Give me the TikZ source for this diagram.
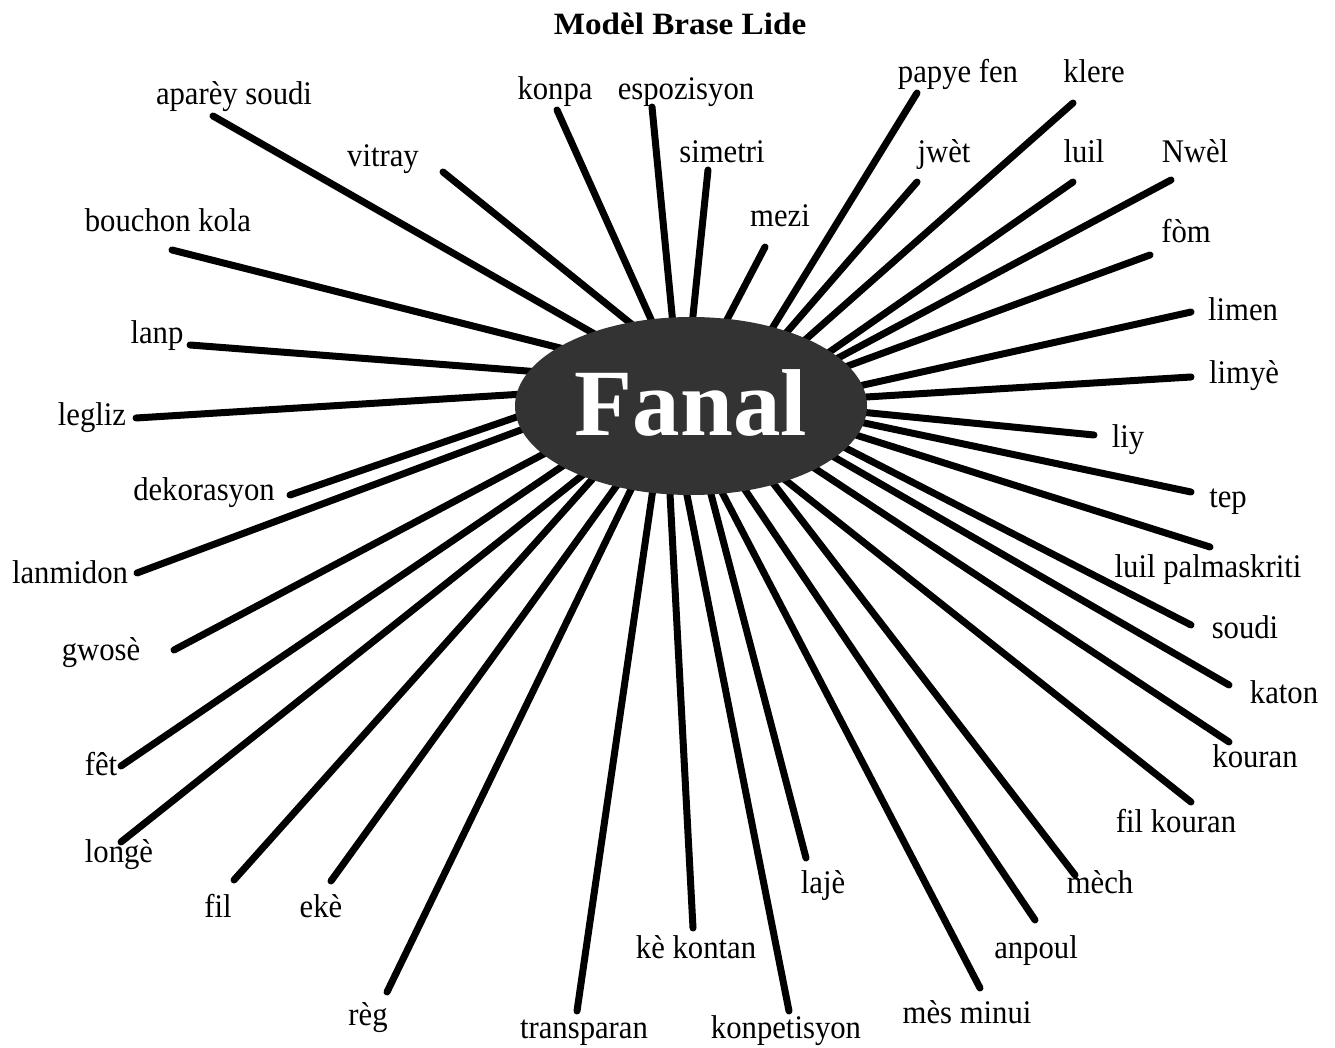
\documentclass[tikz,border=0pt]{standalone}
\usepackage{fontspec}
\usepackage{graphicx}
\setmainfont{Liberation Serif}
\newfontfamily\labfont[FakeStretch=0.93]{Liberation Serif}
\usetikzlibrary{shapes.geometric}
\tikzset{
  ray/.style={line width=7pt, line cap=round, black},
  lab/.style={anchor=base, inner sep=0pt, font=\labfont\fontsize{33}{38}\selectfont},
  hub/.style={ellipse, fill=black!80, draw=none, minimum width=352pt, minimum height=178pt, inner sep=0pt},
}
\begin{document}
\begin{tikzpicture}[x=1pt,y=-1pt]
\useasboundingbox[fill=white] (0,0) rectangle (1335,1048);

% title
\node[anchor=base, inner sep=0pt] (title) at (680,35) {\scalebox{1.07}[1]{\fontsize{31}{36}\selectfont\bfseries Modèl Brase Lide}};

% outer / inner ends of the rays
\coordinate (o01) at (213,116);  \coordinate (i01) at (605,340);  % aparey soudi
\coordinate (o02) at (443,172);  \coordinate (i02) at (645,335);  % vitray
\coordinate (o03) at (557,110);  \coordinate (i03) at (658,335);  % konpa
\coordinate (o04) at (652,107);  \coordinate (i04) at (674,335);  % espozisyon
\coordinate (o05) at (708,170);  \coordinate (i05) at (691,335);  % simetri
\coordinate (o06) at (765,247);  \coordinate (i06) at (719,335);  % mezi
\coordinate (o07) at (917,93);   \coordinate (i07) at (765,340);  % papye fen
\coordinate (o08) at (917,182);  \coordinate (i08) at (780,340);  % jwet
\coordinate (o09) at (1073,103); \coordinate (i09) at (805,340);  % klere
\coordinate (o10) at (1073,182); \coordinate (i10) at (818,360);  % luil
\coordinate (o11) at (1171,180); \coordinate (i11) at (825,365);  % Nwel
\coordinate (o12) at (1150,255); \coordinate (i12) at (845,367);  % fom
\coordinate (o13) at (1191,312); \coordinate (i13) at (850,388);  % limen
\coordinate (o14) at (1191,377); \coordinate (i14) at (850,398);  % limye
\coordinate (o15) at (1094,435); \coordinate (i15) at (850,411);  % liy
\coordinate (o16) at (1191,492); \coordinate (i16) at (850,420);  % tep
\coordinate (o17) at (1210,547); \coordinate (i17) at (840,430);  % luil palmaskriti
\coordinate (o18) at (1191,625); \coordinate (i18) at (830,440);  % soudi
\coordinate (o19) at (1229,685); \coordinate (i19) at (815,446);  % katon
\coordinate (o20) at (1229,742); \coordinate (i20) at (790,452);  % kouran
\coordinate (o21) at (1191,802); \coordinate (i21) at (760,460);  % fil kouran
\coordinate (o22) at (1075,875); \coordinate (i22) at (763,470);  % mech
\coordinate (o23) at (1035,920); \coordinate (i23) at (735,475);  % anpoul
\coordinate (o24) at (980,988);  \coordinate (i24) at (713,475);  % mes minui
\coordinate (o25) at (806,858);  \coordinate (i25) at (706,475);  % laje
\coordinate (o26) at (789,1011); \coordinate (i26) at (683,475);  % konpetisyon
\coordinate (o27) at (693,928);  \coordinate (i27) at (669,475);  % ke kontan
\coordinate (o28) at (577,1011); \coordinate (i28) at (655,475);  % transparan
\coordinate (o29) at (387,992);  \coordinate (i29) at (638,475);  % reg
\coordinate (o30) at (331,881);  \coordinate (i30) at (628,470);  % eke
\coordinate (o31) at (234,880);  \coordinate (i31) at (605,465);  % fil
\coordinate (o32) at (121,842);  \coordinate (i32) at (589,470);  % longe
\coordinate (o33) at (121,766);  \coordinate (i33) at (570,461);  % fet
\coordinate (o34) at (174,650);  \coordinate (i34) at (555,448);  % gwose
\coordinate (o35) at (137,573);  \coordinate (i35) at (545,421);  % lanmidon
\coordinate (o36) at (290,495);  \coordinate (i36) at (540,409);  % dekorasyon
\coordinate (o37) at (136,418);  \coordinate (i37) at (540,393);  % legliz
\coordinate (o38) at (190,345);  \coordinate (i38) at (540,372);  % lanp
\coordinate (o39) at (172,250);  \coordinate (i39) at (580,353);  % bouchon kola

\foreach \k in {01,02,03,04,05,06,07,08,09,10,11,12,13,14,15,16,17,18,19,20,21,22,23,24,25,26,27,28,29,30,31,32,33,34,35,36,37,38,39}
  \draw[ray] (o\k) -- (i\k);

% central ellipse
\node[hub] (fanal) at (691,406) {};
\node[anchor=base, inner sep=0pt, text=white] (fanaltext) at (691,435) {\fontsize{95}{100}\selectfont\bfseries Fanal};

% labels
\node[lab] (l01) at (234,105) {aparèy soudi};
\node[lab] (l02) at (383,167) {vitray};
\node[lab] (l03) at (555,100) {konpa};
\node[lab] (l04) at (686,100) {espozisyon};
\node[lab] (l05) at (722,163) {simetri};
\node[lab] (l06) at (780,227) {mezi};
\node[lab] (l07) at (958,83) {papye fen};
\node[lab] (l08) at (944,163) {jwèt};
\node[lab] (l09) at (1094,83) {klere};
\node[lab] (l10) at (1084,163) {luil};
\node[lab] (l11) at (1195,163) {Nwèl};
\node[lab] (l12) at (1186,243) {fòm};
\node[lab] (l13) at (1243,320) {limen};
\node[lab] (l14) at (1244,383) {limyè};
\node[lab] (l15) at (1128,447) {liy};
\node[lab] (l16) at (1228,507) {tep};
\node[lab] (l17) at (1208,577) {luil palmaskriti};
\node[lab] (l18) at (1245,638) {soudi};
\node[lab] (l19) at (1284,703) {katon};
\node[lab] (l20) at (1255,767) {kouran};
\node[lab] (l21) at (1176,832) {fil kouran};
\node[lab] (l22) at (1100,893) {mèch};
\node[lab] (l23) at (1036,958) {anpoul};
\node[lab] (l24) at (967,1023) {mès minui};
\node[lab] (l25) at (823,893) {lajè};
\node[lab] (l26) at (786,1038) {konpetisyon};
\node[lab] (l27) at (696,958) {kè kontan};
\node[lab] (l28) at (584,1038) {transparan};
\node[lab] (l29) at (368,1025) {règ};
\node[lab] (l30) at (321,917) {ekè};
\node[lab] (l31) at (218,917) {fil};
\node[lab] (l32) at (119,862) {longè};
\node[lab] (l33) at (101,775) {fêt};
\node[lab] (l34) at (101,660) {gwosè};
\node[lab] (l35) at (70,583) {lanmidon};
\node[lab] (l36) at (204,500) {dekorasyon};
\node[lab] (l37) at (92,425) {legliz};
\node[lab] (l38) at (157,343) {lanp};
\node[lab] (l39) at (168,232) {bouchon kola};
\end{tikzpicture}
\end{document}
